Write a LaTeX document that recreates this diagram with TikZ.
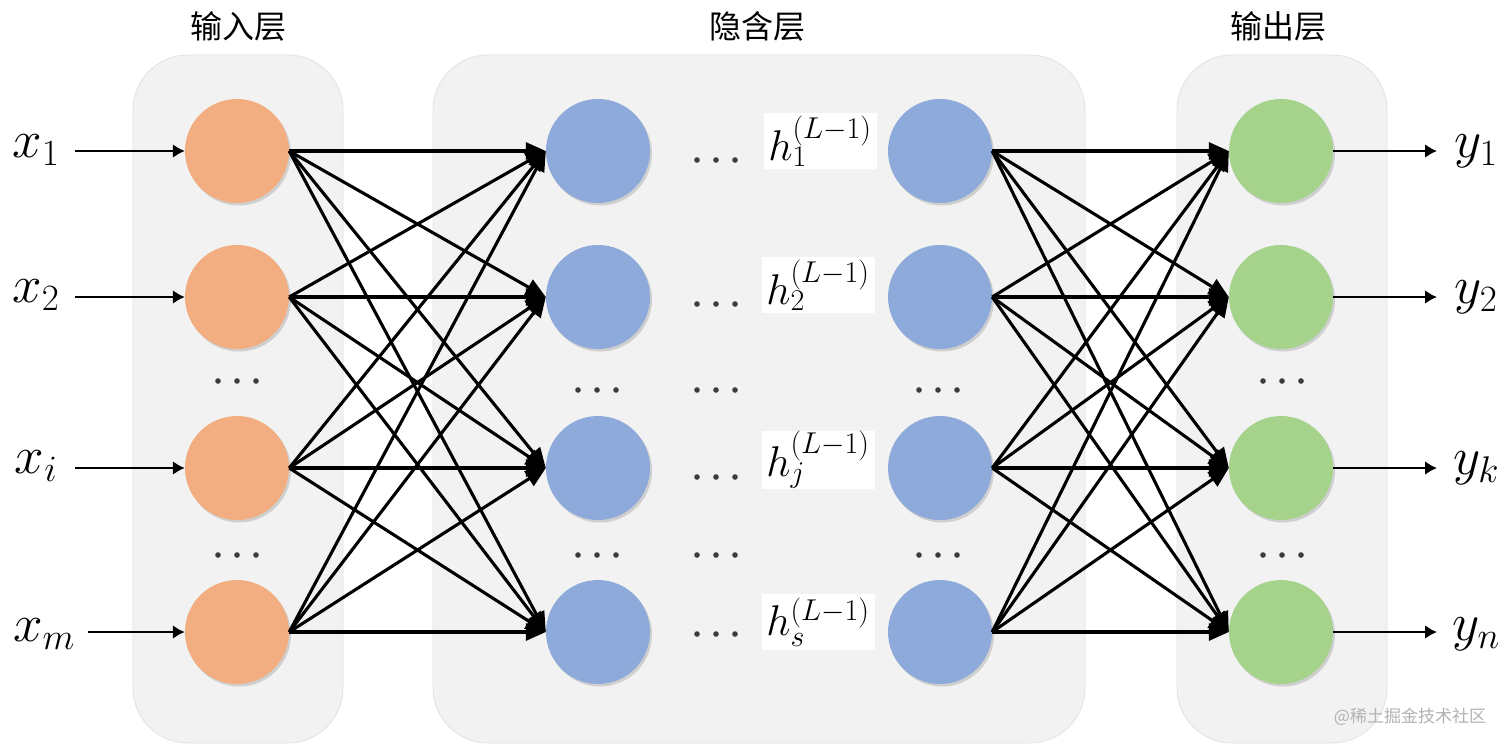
\RequirePackage{fix-cm}
\documentclass[tikz,border=0pt]{standalone}
\usepackage{fontspec}
\newfontfamily\cjk{Noto Sans CJK SC}
\usetikzlibrary{arrows.meta,shadows}
\definecolor{inc}{RGB}{242,174,128}
\definecolor{hidc}{RGB}{142,170,219}
\definecolor{outc}{RGB}{166,211,140}
\definecolor{panelc}{RGB}{242,242,242}
\definecolor{paneld}{RGB}{226,226,226}
\definecolor{dotc}{RGB}{60,60,60}
\tikzset{
  panel/.style={fill=panelc, draw=paneld, line width=0.8pt, rounded corners=55pt},
  neuron/.style={circle, minimum size=104pt, inner sep=0pt,
    drop shadow={shadow xshift=2pt, shadow yshift=-2.5pt, opacity=0.3}},
  conn/.style={line width=3.1pt, -{Triangle[length=20pt,width=17pt]}},
  iostyle/.style={line width=2.9pt, -{Latex[length=12pt,width=14pt]}},
  hlabel/.style={fill=white, minimum width=113pt, minimum height=56pt, inner sep=0pt,
    font=\fontsize{43}{46}\selectfont},
  xylabel/.style={inner sep=0pt, font=\fontsize{53}{58}\selectfont},
  heading/.style={font=\cjk\fontsize{32}{35}\selectfont},
  dotmark/.style={fill=dotc, draw=none}
}
\newcommand\mydots[2]{%
  \foreach \dd in {-19,0,19} {\fill[dotmark] (#1+\dd,#2) circle (2.8pt);}}
\begin{document}
\begin{tikzpicture}[x=1pt,y=-1pt]
\useasboundingbox (0,0) rectangle (1512,748);
\fill[white] (0,0) rectangle (1512,748);
% panels
\draw[panel] (133,55) rectangle (343,743);
\draw[panel] (433,55) rectangle (1085,743);
\draw[panel] (1177,55) rectangle (1387,743);
% headings
\node[heading] (t1) at (238,26) {输入层};
\node[heading] (t2) at (757,26) {隐含层};
\node[heading] (t3) at (1278,26) {输出层};
% neurons
\foreach \y/\n in {151/1,297/2,468/3,632/4} {
  \node[neuron, fill=inc]  (i\n)  at (237,\y) {};
  \node[neuron, fill=hidc] (ha\n) at (598,\y) {};
  \node[neuron, fill=hidc] (hb\n) at (940,\y) {};
  \node[neuron, fill=outc] (o\n)  at (1281,\y) {};
}
% dots
\mydots{237}{381}
\mydots{237}{555}
\mydots{1282}{381}
\mydots{1282}{555}
\mydots{597}{390}
\mydots{597}{555}
\mydots{938}{390}
\mydots{938}{555}
\mydots{716}{390}
\mydots{716}{555}
\mydots{716}{160}
\mydots{716}{304}
\mydots{716}{477}
\mydots{716}{634}
% connections
\foreach \a in {1,...,4} {
  \foreach \b in {1,...,4} {
    \draw[conn] (i\a.east) -- (ha\b.west);
    \draw[conn] (hb\a.east) -- (o\b.west);
  }
}
% hidden labels
\node[hlabel] (l1) at (820,141) {$h_1^{(L-1)}$};
\node[hlabel] (l2) at (818,285) {$h_2^{(L-1)}$};
\node[hlabel] (l3) at (818,460) {$h_j^{(L-1)}$};
\node[hlabel] (l4) at (818,622) {$h_s^{(L-1)}$};
% inputs
\node[xylabel] (x1) at (36,150) {$x_1$};
\node[xylabel] (x2) at (36,295) {$x_2$};
\node[xylabel] (x3) at (36,466) {$x_i$};
\node[xylabel] (x4) at (44,634) {$x_m$};
\foreach \y/\n/\s in {151/1/75,297/2/75,468/3/75,632/4/88} {
  \coordinate (xs\n) at (\s,\y);
  \coordinate (ye\n) at (1437,\y);
  \draw[iostyle] (xs\n) -- (i\n.west);
  \draw[iostyle] (o\n.east) -- (ye\n);
}
\node[xylabel] (y1) at (1476,151) {$y_1$};
\node[xylabel] (y2) at (1476,297) {$y_2$};
\node[xylabel] (y3) at (1476,468) {$y_k$};
\node[xylabel] (y4) at (1476,634) {$y_n$};
% watermark
\node[text=black!30, font=\cjk\fontsize{17}{20}\selectfont] (wm) at (1410,717) {@稀土掘金技术社区};
\end{tikzpicture}
\end{document}
